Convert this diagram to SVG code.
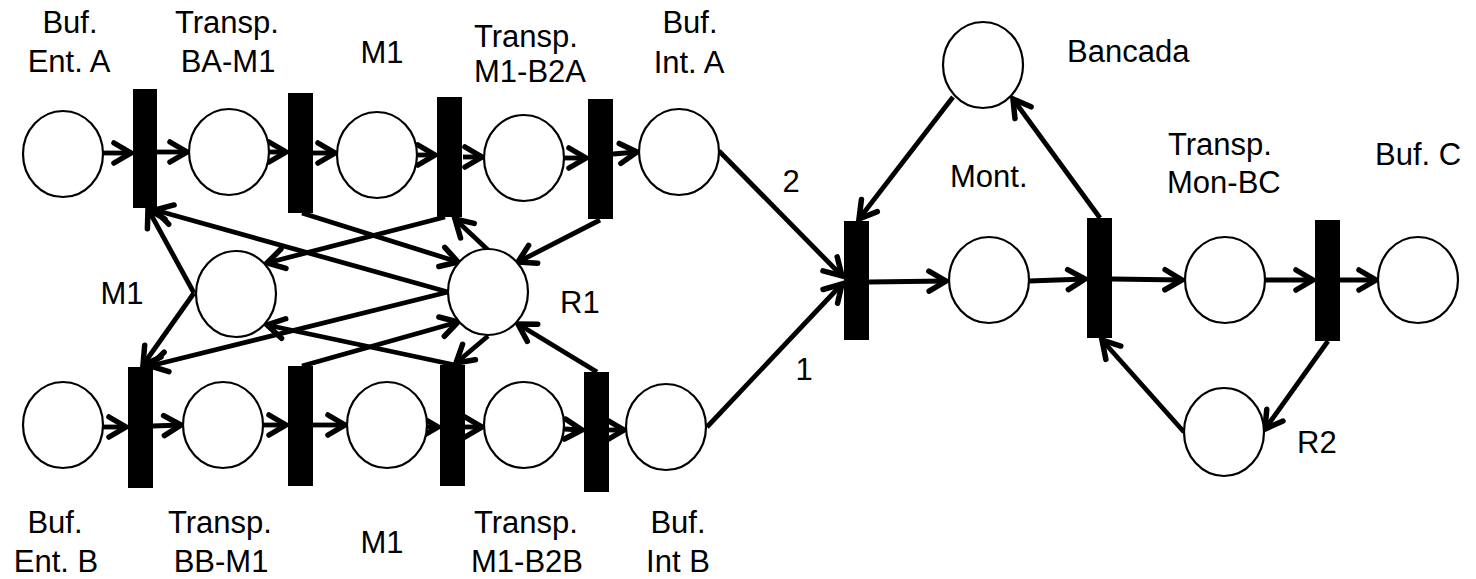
<svg xmlns="http://www.w3.org/2000/svg" width="1476" height="579" viewBox="0 0 1476 579">
<style>
.pl{fill:#fff;stroke:#000;stroke-width:2.2}
.tr{fill:#000}
.c{fill:none;stroke:#000;stroke-width:4.8;marker-end:url(#ah)}
text{font-family:"Liberation Sans",Arial,sans-serif;font-size:31px;fill:#000}
.m{text-anchor:middle}
</style>
<defs>
<marker id="ah" markerUnits="userSpaceOnUse" viewBox="-22 -15 28 30" markerWidth="28" markerHeight="30" refX="0" refY="0" orient="auto">
<path d="M-17,-10 L0,0 L-17,10" fill="none" stroke="#000" stroke-width="5.5" stroke-linecap="round"/>
</marker>
</defs>
<g id="connectors">
<line class="c" x1="103" y1="153" x2="131" y2="153"/>
<line class="c" x1="157" y1="152" x2="187" y2="152"/>
<line class="c" x1="269" y1="152" x2="286" y2="152"/>
<line class="c" x1="313" y1="153" x2="335" y2="153"/>
<line class="c" x1="418" y1="155" x2="435" y2="155"/>
<line class="c" x1="463" y1="157" x2="482" y2="157"/>
<line class="c" x1="564" y1="158" x2="586" y2="158"/>
<line class="c" x1="613" y1="154" x2="637" y2="152"/>
<line class="c" x1="103" y1="427" x2="126" y2="427"/>
<line class="c" x1="153" y1="426" x2="181" y2="425"/>
<line class="c" x1="263" y1="425" x2="286" y2="425"/>
<line class="c" x1="313" y1="425" x2="345" y2="425"/>
<line class="c" x1="427" y1="427" x2="438" y2="427"/>
<line class="c" x1="465" y1="427" x2="482" y2="427"/>
<line class="c" x1="564" y1="429" x2="582" y2="430"/>
<line class="c" x1="609" y1="430" x2="624" y2="430"/>
<line class="c" x1="194" y1="293" x2="148" y2="209"/>
<line class="c" x1="194" y1="293" x2="143" y2="365"/>
<line class="c" x1="448" y1="292" x2="155" y2="210"/>
<line class="c" x1="448" y1="292" x2="150" y2="366"/>
<line class="c" x1="445" y1="217" x2="267" y2="263"/>
<line class="c" x1="455" y1="365" x2="267" y2="325"/>
<line class="c" x1="302" y1="213" x2="458" y2="262"/>
<line class="c" x1="302" y1="366" x2="458" y2="322"/>
<line class="c" x1="488" y1="250" x2="455" y2="219"/>
<line class="c" x1="488" y1="336" x2="456" y2="363"/>
<line class="c" x1="600" y1="220" x2="518" y2="262"/>
<line class="c" x1="597" y1="372" x2="518" y2="324"/>
<line class="c" x1="719" y1="151" x2="842" y2="276"/>
<line class="c" x1="707" y1="427" x2="842" y2="284"/>
<line class="c" x1="953" y1="97" x2="859" y2="219"/>
<line class="c" x1="869" y1="282" x2="946" y2="281"/>
<line class="c" x1="1029" y1="281" x2="1085" y2="279"/>
<line class="c" x1="1100" y1="218" x2="1013" y2="99"/>
<line class="c" x1="1112" y1="279" x2="1182" y2="280"/>
<line class="c" x1="1265" y1="280" x2="1313" y2="280"/>
<line class="c" x1="1340" y1="280" x2="1376" y2="280"/>
<line class="c" x1="1328" y1="341" x2="1265" y2="429"/>
<line class="c" x1="1184" y1="432" x2="1102" y2="340"/>
</g>
<g id="P_BufEntA"><ellipse class="pl" cx="63" cy="154" rx="40" ry="43"/><text class="m" x="70" y="33">Buf.</text><text class="m" x="69" y="72">Ent. A</text></g>
<g id="T_BA_M1"><rect class="tr" x="133" y="89" width="24" height="119"/></g>
<g id="P_TranspBAM1"><ellipse class="pl" cx="229" cy="152" rx="40" ry="43"/><text class="m" x="227" y="33">Transp.</text><text class="m" x="228" y="72">BA-M1</text></g>
<g id="T_2"><rect class="tr" x="288" y="93" width="25" height="120"/></g>
<g id="P_M1_top"><ellipse class="pl" cx="377" cy="155" rx="40" ry="43"/><text class="m" x="382" y="63">M1</text></g>
<g id="T_3"><rect class="tr" x="437" y="97" width="25" height="120"/></g>
<g id="P_TranspM1B2A"><ellipse class="pl" cx="524" cy="158" rx="40" ry="43"/><text class="m" x="526" y="47">Transp.</text><text class="m" x="530" y="82">M1-B2A</text></g>
<g id="T_4"><rect class="tr" x="588" y="99" width="25" height="120"/></g>
<g id="P_BufIntA"><ellipse class="pl" cx="679" cy="152" rx="40" ry="43"/><text class="m" x="690" y="33">Buf.</text><text class="m" x="689" y="73">Int. A</text></g>
<g id="P_M1_res"><ellipse class="pl" cx="236" cy="294" rx="40" ry="43"/><text class="m" x="122" y="304">M1</text></g>
<g id="P_R1"><ellipse class="pl" cx="488" cy="292" rx="40" ry="43"/><text x="560" y="313">R1</text></g>
<g id="P_BufEntB"><ellipse class="pl" cx="63" cy="425" rx="40" ry="43"/><text class="m" x="55" y="533">Buf.</text><text class="m" x="56" y="572">Ent. B</text></g>
<g id="T_6"><rect class="tr" x="128" y="367" width="25" height="121"/></g>
<g id="P_TranspBBM1"><ellipse class="pl" cx="223" cy="425" rx="40" ry="43"/><text class="m" x="220" y="533">Transp.</text><text class="m" x="221" y="572">BB-M1</text></g>
<g id="T_7"><rect class="tr" x="288" y="366" width="25" height="120"/></g>
<g id="P_M1_bot"><ellipse class="pl" cx="387" cy="425" rx="40" ry="43"/><text class="m" x="382" y="553">M1</text></g>
<g id="T_8"><rect class="tr" x="440" y="365" width="25" height="121"/></g>
<g id="P_TranspM1B2B"><ellipse class="pl" cx="524" cy="425" rx="40" ry="43"/><text class="m" x="526" y="533">Transp.</text><text class="m" x="527" y="572">M1-B2B</text></g>
<g id="T_9"><rect class="tr" x="584" y="372" width="25" height="120"/></g>
<g id="P_BufIntB"><ellipse class="pl" cx="666" cy="427" rx="40" ry="43"/><text class="m" x="678" y="533">Buf.</text><text class="m" x="678" y="572">Int B</text></g>
<g id="T_Mont"><rect class="tr" x="844" y="221" width="25" height="119"/><text class="m" x="791" y="192">2</text><text class="m" x="804" y="380">1</text></g>
<g id="P_Bancada"><ellipse class="pl" cx="983" cy="65" rx="40" ry="43"/><text x="1067" y="62">Bancada</text></g>
<g id="P_Mont"><ellipse class="pl" cx="989" cy="280" rx="40" ry="43"/><text x="950" y="187">Mont.</text></g>
<g id="T_10"><rect class="tr" x="1087" y="218" width="25" height="120"/></g>
<g id="P_TranspMonBC"><ellipse class="pl" cx="1225" cy="280" rx="40" ry="43"/><text x="1168" y="155">Transp.</text><text x="1167" y="193">Mon-BC</text></g>
<g id="T_11"><rect class="tr" x="1315" y="220" width="25" height="121"/></g>
<g id="P_BufC"><ellipse class="pl" cx="1418" cy="280" rx="40" ry="43"/><text x="1375" y="165">Buf. C</text></g>
<g id="P_R2"><ellipse class="pl" cx="1224" cy="432" rx="40" ry="44"/><text x="1297" y="453">R2</text></g>
</svg>
